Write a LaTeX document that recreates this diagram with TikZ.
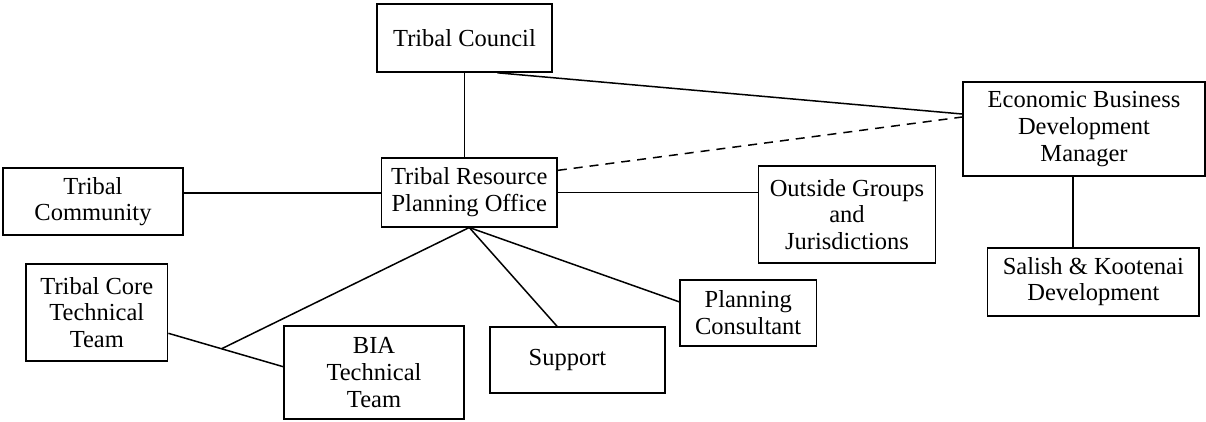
\documentclass[tikz,border=0pt]{standalone}
\usepackage{fontspec}
\setmainfont{Liberation Serif}
\usetikzlibrary{calc}
\tikzset{
  box/.style={draw, line width=1.6pt, align=center, inner sep=0pt,
    font=\fontsize{24.5}{26.7}\selectfont},
  link/.style={line width=1.5pt},
  dlink/.style={line width=1.5pt, dash pattern=on 9pt off 7pt}
}
\begin{document}
\begin{tikzpicture}[x=1pt,y=1pt]
\useasboundingbox (0,0) rectangle (1206,-421);
\node[box, minimum width=175pt, minimum height=68pt] (TC) at (464.5,-38) {Tribal Council};
\node[box, minimum width=175.5pt, minimum height=68.7pt] (TRPO) at (469.25,-192.35) {Tribal Resource\\Planning Office};
\node[box, minimum width=180pt, minimum height=67pt] (TCom) at (93,-201.5) {Tribal\\Community};
\node[box, minimum width=177pt, minimum height=96.7pt] (OG) at (847,-214.35) {Outside Groups\\and\\Jurisdictions};
\node[box, minimum width=242pt, minimum height=94pt] (EBDM) at (1084,-129) {Economic Business\\Development\\Manager};
\node[box, minimum width=211.4pt, minimum height=68pt] (SK) at (1093.3,-281.7) {Salish \& Kootenai\\Development};
\node[box, minimum width=136.4pt, minimum height=65.7pt] (PC) at (748.2,-312.85) {Planning\\Consultant};
\node[box, minimum width=175pt, minimum height=65.7pt] (SUP) at (577.5,-359.85) {Support\hspace*{20pt}};
\node[box, minimum width=180pt, minimum height=93pt] (BIA) at (374,-372.5) {BIA\\Technical\\Team};
\node[box, minimum width=141.6pt, minimum height=97pt] (CORE) at (96.8,-312.5) {Tribal Core\\Technical\\Team};

\draw[link] (TC.south) -- (TC.south |- TRPO.north);
\draw[link] ([xshift=33pt]TC.south) -- ([yshift=15pt]EBDM.west);
\draw[dlink] ([yshift=22pt]TRPO.east) -- ([yshift=12pt]EBDM.west);
\coordinate (a) at ([yshift=8.5pt]TCom.east);
\draw[link] (a) -- (a -| TRPO.west);
\draw[link] (TRPO.east) -- (TRPO.east -| OG.west);
\coordinate (b) at ([xshift=-11pt]EBDM.south);
\draw[link] (b) -- (b |- SK.north);
\coordinate (ca) at ([yshift=-20.8pt]CORE.east);
\coordinate (ba) at ([yshift=5.8pt]BIA.west);
\coordinate (j) at ($(ca)!0.463!(ba)$);
\draw[link] (ca) -- (ba);
\draw[link] (TRPO.south) -- (j);
\draw[link] (TRPO.south) -- ([xshift=-20.5pt]SUP.north);
\draw[link] (TRPO.south) -- ([yshift=11pt]PC.west);
\end{tikzpicture}
\end{document}
